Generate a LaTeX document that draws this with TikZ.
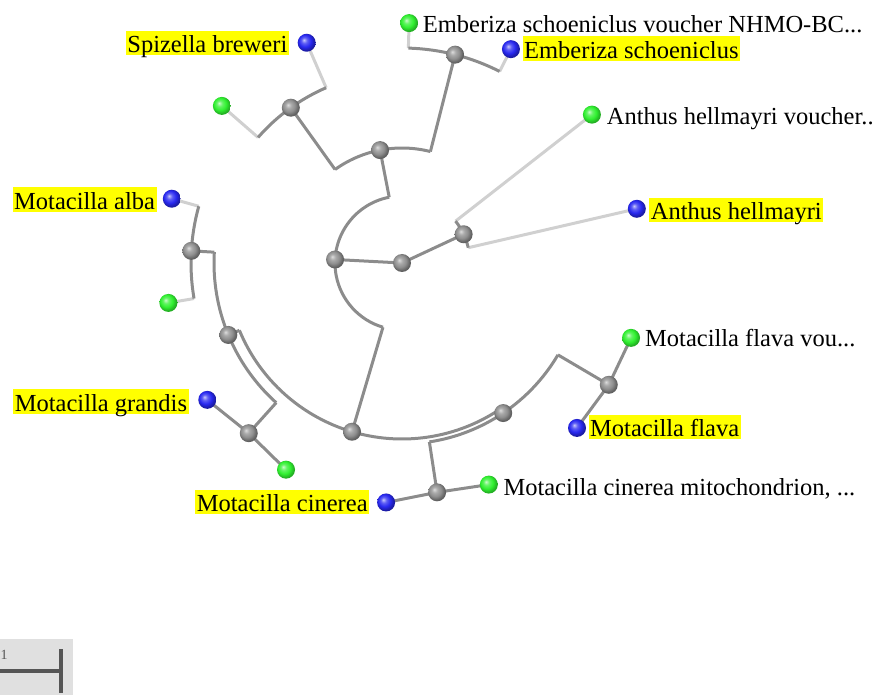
\documentclass[tikz,border=0pt]{standalone}
\usepackage{fontspec}
\setmainfont{Liberation Serif}
\newfontfamily\labfont{Liberation Serif}
\definecolor{treegray}{HTML}{8C8C8C}
\definecolor{lightbr}{HTML}{D0D0D0}
\definecolor{scalebg}{HTML}{E0E0E0}
\definecolor{scaleln}{HTML}{555555}
\definecolor{hlyellow}{HTML}{FFFF00}
\definecolor{leafblue}{HTML}{2828F0}
\definecolor{leafgreen}{HTML}{30F030}
\definecolor{nodegray}{HTML}{8E8E8E}
\pgfdeclareradialshading{bluesh}{\pgfpoint{-8bp}{8bp}}{color(0bp)=(leafblue!25!white); color(8bp)=(leafblue!75!white); color(17bp)=(leafblue); color(25bp)=(leafblue!70!black); color(50bp)=(leafblue!40!black)}
\pgfdeclareradialshading{greensh}{\pgfpoint{-8bp}{8bp}}{color(0bp)=(leafgreen!25!white); color(8bp)=(leafgreen!75!white); color(17bp)=(leafgreen); color(25bp)=(leafgreen!75!black); color(50bp)=(leafgreen!40!black)}
\pgfdeclareradialshading{graysh}{\pgfpoint{-8bp}{8bp}}{color(0bp)=(nodegray!30!white); color(8bp)=(nodegray!75!white); color(17bp)=(nodegray); color(25bp)=(nodegray!70!black); color(50bp)=(nodegray!40!black)}
\begin{document}
\begin{tikzpicture}[x=1pt,y=1pt,
  br/.style={draw=treegray,line width=3pt},
  lt/.style={draw=lightbr,line width=3pt},
  ballbase/.style={circle,minimum size=18pt,inner sep=0pt},
  gball/.style={ballbase,shading=graysh},
  bball/.style={ballbase,shading=bluesh},
  grball/.style={ballbase,shading=greensh},
  lab/.style={font=\labfont\fontsize{24.5}{28}\selectfont,inner xsep=1.5pt,inner ysep=1pt,text height=21pt,text depth=1.5pt},
  hl/.style={lab,fill=hlyellow}]
\useasboundingbox (-402,263) rectangle (475,-432);
% positions
\coordinate (r0) at (0,0);
\coordinate (p4) at (177:67);
\coordinate (p6) at (25:68);
\coordinate (p2) at (101:115);
\coordinate (p10) at (253.5:176);
\coordinate (p1) at (125.6:191);
\coordinate (p3) at (75.7:215);
\coordinate (p8) at (202.5:188);
\coordinate (p11) at (304:181);
\coordinate (p7) at (176.7:211);
\coordinate (p9) at (228:229);
\coordinate (p13) at (278.7:232);
\coordinate (p12) at (329.5:240);
\coordinate (s1) at (113.4:240);
\coordinate (s2) at (138.9:239);
\coordinate (e1) at (88.3:240);
\coordinate (e2) at (63:240);
\coordinate (a1) at (38:241);
\coordinate (a2) at (13:241);
\coordinate (m1) at (164.4:239);
\coordinate (m2) at (189.7:237);
\coordinate (m3) at (215.1:238);
\coordinate (m4) at (240.7:237);
\coordinate (c1) at (266.2:240);
\coordinate (c2) at (291.4:238);
\coordinate (f1) at (341.9:241);
\coordinate (f2) at (316.7:240.5);
% arc end points
\coordinate (k4a) at (101:67);   \coordinate (k4b) at (253.5:67);
\coordinate (k2a) at (75.7:115); \coordinate (k2b) at (125.6:115);
\coordinate (k1a) at (113.4:191);\coordinate (k1b) at (138.9:191);
\coordinate (k3a) at (63:215);   \coordinate (k3b) at (88.3:215);
\coordinate (k6a) at (13:68);    \coordinate (k6b) at (38:68);
\coordinate (k10a) at (202.5:176);\coordinate (k10b) at (304:176);
\coordinate (k8a) at (176.7:188);\coordinate (k8b) at (228:188);
\coordinate (k7a) at (164.4:211);\coordinate (k7b) at (189.7:211);
\coordinate (k11a) at (278.7:181);\coordinate (k11b) at (329.5:181);
% light leaf branches
\draw[lt] (k1a) -- (s1);
\draw[lt] (k1b) -- (s2);
\draw[lt] (k3a) -- (e2);
\draw[lt] (k3b) -- (e1);
\draw[lt] (k6a) -- (a2);
\draw[lt] (k6b) -- (a1);
\draw[lt] (k7a) -- (m1);
\draw[lt] (k7b) -- (m2);
% arcs
\draw[br] (k4a) arc[start angle=101,end angle=253.5,radius=67];
\draw[br] (k2a) arc[start angle=75.7,end angle=125.6,radius=115];
\draw[br] (k1a) arc[start angle=113.4,end angle=138.9,radius=191];
\draw[br] (k3a) arc[start angle=63,end angle=88.3,radius=215];
\draw[br] (k6a) arc[start angle=13,end angle=38,radius=68];
\draw[br] (k10a) arc[start angle=202.5,end angle=304,radius=176];
\draw[br] (k8a) arc[start angle=176.7,end angle=228,radius=188];
\draw[br] (k7a) arc[start angle=164.4,end angle=189.7,radius=211];
\draw[br] (k11a) arc[start angle=278.7,end angle=329.5,radius=181];
% radial branches
\draw[br] (r0) -- (p4);
\draw[br] (r0) -- (p6);
\draw[br] (k4a) -- (p2);
\draw[br] (k4b) -- (p10);
\draw[br] (k2a) -- (p3);
\draw[br] (k2b) -- (p1);
\draw[br] (k10a) -- (p8);
\draw[br] (k10b) -- (p11);
\draw[br] (k8a) -- (p7);
\draw[br] (k8b) -- (p9);
\draw[br] (k11a) -- (p13);
\draw[br] (k11b) -- (p12);
\draw[br] (p9) -- (m3);
\draw[br] (p9) -- (m4);
\draw[br] (p13) -- (c1);
\draw[br] (p13) -- (c2);
\draw[br] (p12) -- (f1);
\draw[br] (p12) -- (f2);
% internal balls
\foreach \n in {r0,p1,p2,p3,p4,p6,p7,p8,p9,p10,p11,p12,p13}
  \node[gball] (b\n) at (\n) {};
% leaf balls
\foreach \n in {s1,e2,a2,m1,m3,c1,f2}
  \node[bball] (b\n) at (\n) {};
\foreach \n in {s2,e1,a1,m2,m4,c2,f1}
  \node[grball] (b\n) at (\n) {};
% labels
\node[hl,anchor=base east] (ls1) at (-113,210) {Spizella breweri};
\node[lab,anchor=base west] (le1) at (19.2,230.3) {Emberiza schoeniclus voucher NHMO-BC...};
\node[hl,anchor=base west] (le2) at (120.5,204.5) {Emberiza schoeniclus};
\node[lab,anchor=base west] (la1) at (203.2,138) {Anthus hellmayri voucher..};
\node[hl,anchor=base west] (la2) at (247.2,43) {Anthus hellmayri};
\node[hl,anchor=base west] (lm1) at (-389.5,53.7) {Motacilla alba};
\node[hl,anchor=base west] (lm3) at (-388.8,-148) {Motacilla grandis};
\node[hl,anchor=base west] (lc1) at (-206.8,-248.7) {Motacilla cinerea};
\node[lab,anchor=base west] (lc2) at (99.8,-232.7) {Motacilla cinerea mitochondrion, ...};
\node[hl,anchor=base west] (lf2) at (186.5,-173.7) {Motacilla flava};
\node[lab,anchor=base west] (lf1) at (241.5,-83.7) {Motacilla flava vou...};
% scale bar
\fill[scalebg] (-402,-376) rectangle (-329,-432);
\node[font=\labfont\fontsize{14}{16}\selectfont,inner sep=0.5pt,anchor=base west,text=scaleln] (sbl) at (-402,-396) {1};
\coordinate (sb1) at (-402,-408);
\coordinate (sb2) at (-340.5,-408);
\coordinate (sb3) at (-340.5,-386);
\coordinate (sb4) at (-340.5,-430);
\draw[scaleln,line width=4pt] (sb1) -- (sb2);
\draw[scaleln,line width=4pt] (sb3) -- (sb4);
\end{tikzpicture}
\end{document}
